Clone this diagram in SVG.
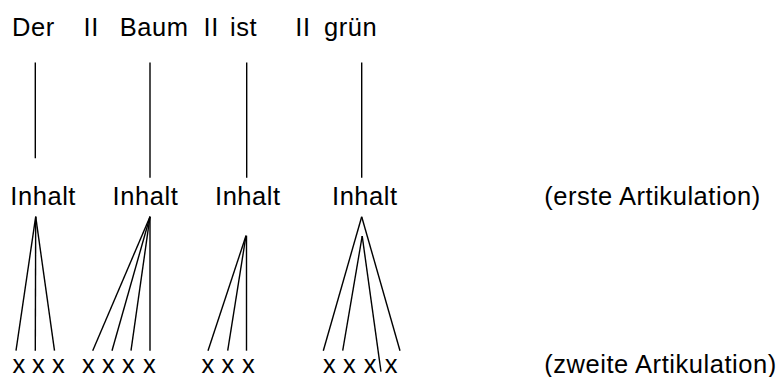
<svg xmlns="http://www.w3.org/2000/svg" width="781" height="377" viewBox="0 0 781 377">
<style>
text{font-family:"Liberation Sans",Arial,Helvetica,sans-serif;font-size:25.5px;fill:#000}
.w{letter-spacing:0.55px}
line{stroke:#000;stroke-width:1.4;fill:none}
</style>
<rect width="781" height="377" fill="#fff"/>
<g id="words">
<text class="w" x="12" y="36">Der</text>
<text class="w" x="83.6" y="36">II</text>
<text class="w" x="119.7" y="36">Baum</text>
<text class="w" x="203.6" y="36">II</text>
<text class="w" x="230" y="36">ist</text>
<text class="w" x="295.3" y="36">II</text>
<text class="w" x="324" y="36">grün</text>
</g>
<g id="inhalt1"><text class="w" x="10.3" y="205">Inhalt</text></g>
<g id="inhalt2"><text class="w" x="112.6" y="205">Inhalt</text></g>
<g id="inhalt3"><text class="w" x="215" y="205">Inhalt</text></g>
<g id="inhalt4"><text class="w" x="332" y="205">Inhalt</text></g>
<g id="label1"><text class="w" x="544.2" y="205">(erste Artikulation)</text></g>
<g id="xs1"><text x="12.4" y="373">x</text><text x="32" y="373">x</text><text x="52" y="373">x</text></g>
<g id="xs2"><text x="82" y="373">x</text><text x="102" y="373">x</text><text x="122" y="373">x</text><text x="143" y="373">x</text></g>
<g id="xs3"><text x="201.4" y="373">x</text><text x="221.4" y="373">x</text><text x="242" y="373">x</text></g>
<g id="xs4"><text x="323" y="373">x</text><text x="343" y="373">x</text><text x="363.7" y="373">x</text><text x="384.7" y="373">x</text></g>
<g id="label2"><text class="w" x="544.2" y="372.5">(zweite Artikulation)</text></g>
<g id="connectors">
<line x1="35.3" y1="62.5" x2="35.3" y2="158.3"/>
<line x1="150" y1="62.5" x2="150" y2="177.7"/>
<line x1="246.7" y1="62.5" x2="246.7" y2="177.7"/>
<line x1="361.7" y1="62.5" x2="361.7" y2="177.7"/>
<line x1="35.7" y1="216.7" x2="16" y2="350.7"/>
<line x1="35.7" y1="216.7" x2="35.3" y2="350.7"/>
<line x1="35.7" y1="216.7" x2="54.5" y2="350.7"/>
<line x1="150" y1="216.7" x2="92.7" y2="350.7"/>
<line x1="150" y1="216.7" x2="112" y2="350.7"/>
<line x1="150" y1="216.7" x2="131" y2="350.7"/>
<line x1="150" y1="216.7" x2="150" y2="350.7"/>
<line x1="246" y1="235.7" x2="208" y2="350.7"/>
<line x1="246" y1="235.7" x2="227.7" y2="350.7"/>
<line x1="246.5" y1="235.7" x2="246.5" y2="350.7"/>
<line x1="361.7" y1="216.7" x2="323.3" y2="350.7"/>
<line x1="361.7" y1="216.7" x2="400" y2="350.7"/>
<line x1="362.2" y1="236" x2="342.7" y2="350.7"/>
<line x1="362.2" y1="236" x2="381" y2="371.7"/>
</g>
</svg>
